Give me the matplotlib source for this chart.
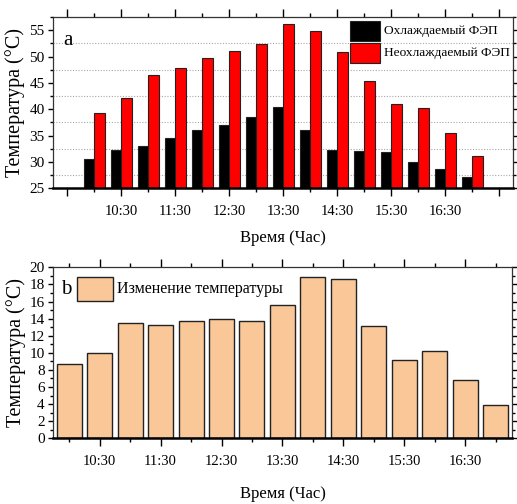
import matplotlib
matplotlib.use("Agg")
import matplotlib.pyplot as plt
from matplotlib.ticker import MultipleLocator, FixedLocator, NullFormatter
from matplotlib.patches import Rectangle

plt.rcParams['font.family'] = ['Liberation Serif', 'DejaVu Serif']

times = ["10:00", "10:30", "11:00", "11:30", "12:00", "12:30", "13:00", "13:30",
         "14:00", "14:30", "15:00", "15:30", "16:00", "16:30", "17:00"]
cooled = [30.5, 32.3, 33.0, 34.5, 36.1, 37.1, 38.6, 40.5, 36.05, 32.3, 32.1, 31.9, 29.9, 28.7, 27.2]
uncooled = [39.2, 42.2, 46.5, 47.9, 49.8, 51.1, 52.35, 56.1, 54.8, 50.9, 45.3, 41.0, 40.2, 35.5, 31.1]
delta = [8.73, 9.94, 13.45, 13.3, 13.68, 13.92, 13.72, 15.56, 18.83, 18.67, 13.14, 9.16, 10.25, 6.78, 3.86]
tick_labels = ["", "10:30", "11:30", "12:30", "13:30", "14:30", "15:30", "16:30", ""]
tick_hours = ["9:30", "10:30", "11:30", "12:30", "13:30", "14:30", "15:30", "16:30", "17:30"]
minor_hours = ["10:00", "11:00", "12:00", "13:00", "14:00", "15:00", "16:00", "17:00"]
legend_a = ["Охлаждаемый ФЭП", "Неохлаждаемый ФЭП"]
legend_b = "Изменение температуры"

def to_h(s):
    h, m = s.split(":")
    return int(h) + int(m) / 60.0

x = [to_h(t) for t in times]
major = [to_h(t) for t in tick_hours]
minor = [to_h(t) for t in minor_hours]

fig = plt.figure(figsize=(5.17, 5.04), dpi=100)
ax1 = fig.add_axes([0.1025, 0.6264, 0.992 - 0.1025, 0.9663 - 0.6264])
ax2 = fig.add_axes([0.103, 0.1304, 0.9897 - 0.103, 0.4696 - 0.1304])

RED = "#ff0000"
PEACH = "#fac898"
EDGE = "#222222"

w = 0.2
ax1.bar([v - w / 2 for v in x], [c - 25 for c in cooled], bottom=25, width=w,
        color="black", edgecolor=EDGE, linewidth=0.8, zorder=3)
ax1.bar([v + w / 2 for v in x], [u - 25 for u in uncooled], bottom=25, width=w,
        color=RED, edgecolor=EDGE, linewidth=0.8, zorder=3)
ax1.set_xlim(9.235, 17.75)
ax1.set_ylim(25, 57.5)
ax1.yaxis.set_major_locator(MultipleLocator(5))
ax1.yaxis.set_minor_locator(MultipleLocator(2.5))
ax1.grid(axis='y', which='minor', linestyle=(0, (1, 1.5)), color="#a8a8a8", linewidth=0.8, zorder=0)
ax1.text(9.51, 53.1, "a", fontsize=15, va='center', ha='center')
# legend (a)
ax1.add_patch(Rectangle((0.6457, 0.860), 0.0652, 0.1168, transform=ax1.transAxes,
                        facecolor="black", edgecolor=EDGE, linewidth=0.8, zorder=6, clip_on=False))
ax1.add_patch(Rectangle((0.6457, 0.7315), 0.0652, 0.1168, transform=ax1.transAxes,
                        facecolor=RED, edgecolor=EDGE, linewidth=0.8, zorder=6, clip_on=False))
ax1.text(0.7196, 0.918, legend_a[0], transform=ax1.transAxes, fontsize=9.6, va='center', ha='left')
ax1.text(0.7196, 0.790, legend_a[1], transform=ax1.transAxes, fontsize=9.6, va='center', ha='left')

ax2.bar(x, delta, width=0.41, color=PEACH, edgecolor=EDGE, linewidth=1.0, zorder=3)
ax2.set_xlim(9.74, 17.26)
ax2.set_ylim(0, 20)
ax2.yaxis.set_major_locator(MultipleLocator(2))
ax2.yaxis.set_minor_locator(MultipleLocator(1))
ax2.text(9.948, 17.46, "b", fontsize=15, va='center', ha='center')
ax2.add_patch(Rectangle((0.051, 0.8047), 0.0785, 0.1404, transform=ax2.transAxes,
                        facecolor=PEACH, edgecolor=EDGE, linewidth=1.0, zorder=6, clip_on=False))
ax2.text(0.1383, 0.875, legend_b, transform=ax2.transAxes, fontsize=11.5, va='center', ha='left')

for ax in (ax1, ax2):
    ax.xaxis.set_major_locator(FixedLocator(major))
    ax.xaxis.set_minor_locator(FixedLocator(minor))
    ax.set_xticklabels(tick_labels)
    ax.xaxis.set_minor_formatter(NullFormatter())
    ax.tick_params(axis='x', which='major', direction='out', length=5.8, width=1.0,
                   pad=6, labelsize=10.5, top=True)
    ax.tick_params(axis='x', which='minor', direction='out', length=3.0, width=1.0, top=True)
    ax.tick_params(axis='y', which='major', direction='out', length=3.6, width=1.0,
                   pad=2.5, labelsize=11, right=True)
    ax.tick_params(axis='y', which='minor', direction='out', length=2.4, width=1.0, right=True)
    for s in ('left', 'right', 'top'):
        ax.spines[s].set_linewidth(0.9)
        ax.spines[s].set_color("#333333")
    ax.spines['bottom'].set_linewidth(1.8)
    ax.spines['bottom'].set_zorder(5)
    ax.set_xlabel("Время (Час)", fontsize=12)
    ax.set_ylabel("Температура (°C)", fontsize=14.5)
    ax.yaxis.set_label_coords(-0.060, 0.5)

ax1.xaxis.set_label_coords(0.5, -0.245)
ax2.xaxis.set_label_coords(0.5, -0.28)

fig.savefig("out.png", dpi=100)
